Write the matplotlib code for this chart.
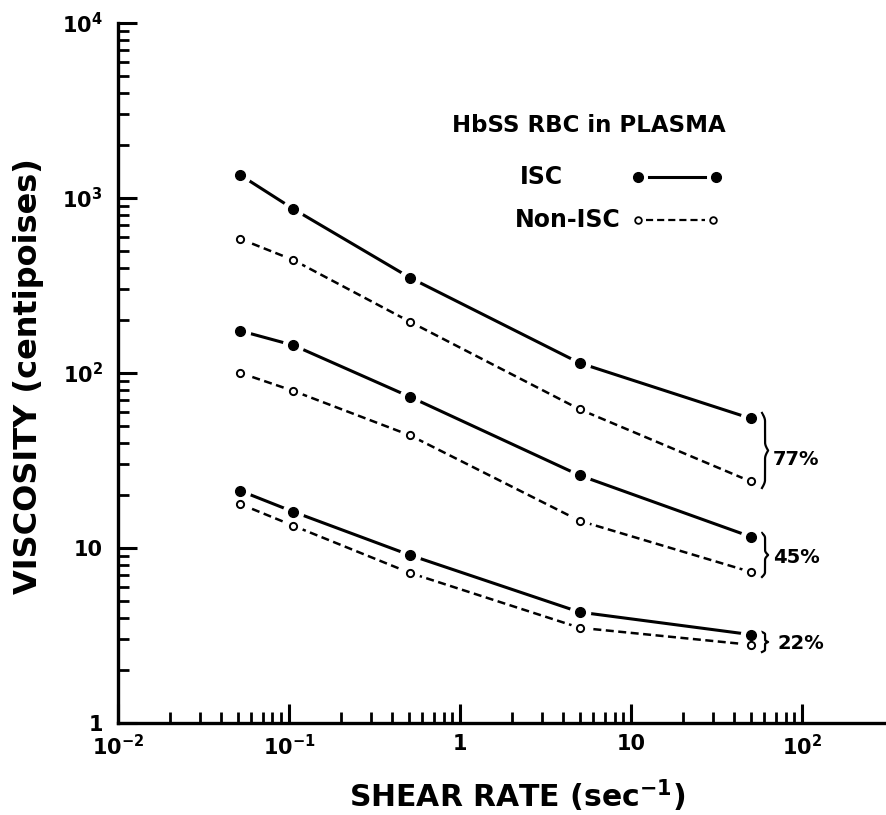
import numpy as np
import matplotlib
matplotlib.use("Agg")
import matplotlib.pyplot as plt

# valeurs
shear = [0.052, 0.106, 0.51, 5.0, 50]
isc_77 = [1350, 865, 350, 114, 55]
non_77 = [583, 442, 196, 62, 24]
isc_45 = [174, 144, 73, 26, 11.6]
non_45 = [100, 79, 44, 14.3, 7.3]
isc_22 = [21.2, 16.1, 9.1, 4.3, 3.2]
non_22 = [17.8, 13.4, 7.2, 3.5, 2.8]

groups = ["77%", "45%", "22%"]
isc_series = [isc_77, isc_45, isc_22]
non_series = [non_77, non_45, non_22]

x_ticks = [1e-2, 1e-1, 1, 10, 1e2]
x_tick_labels = ["10$^{-2}$", "10$^{-1}$", "1", "10", "10$^{2}$"]
y_ticks = [1, 10, 1e2, 1e3, 1e4]
y_tick_labels = ["1", "10", "10$^{2}$", "10$^{3}$", "10$^{4}$"]

plt.rcParams["font.family"] = ["DejaVu Sans"]
plt.rcParams["font.weight"] = "bold"
plt.rcParams["mathtext.fontset"] = "dejavusans"
plt.rcParams["mathtext.default"] = "bf"

fig = plt.figure(figsize=(8.86, 8.15), dpi=100)
ax = fig.add_axes([0.1332, 0.1129, 0.8668, 0.8589])
ax.set_xscale("log")
ax.set_yscale("log")
ax.set_xlim(1e-2, 10 ** 2.49)
ax.set_ylim(1, 1e4)

dash = (0, (3.2, 1.8))
for isc, non in zip(isc_series, non_series):
    ax.plot(shear, isc, color="black", lw=2.2, zorder=2)
    ax.plot(shear, non, color="black", lw=1.8, linestyle=dash, zorder=2)
# halo blanc pour couper les lignes autour des points
for isc, non in zip(isc_series, non_series):
    ax.plot(shear, isc, "o", ms=15.5, color="white", mec="none", zorder=3)
    ax.plot(shear, non, "o", ms=14, color="white", mec="none", zorder=3)
for isc, non in zip(isc_series, non_series):
    ax.plot(shear, isc, "o", ms=7, color="black", mec="black", zorder=4)
    ax.plot(shear, non, "o", ms=5.2, mfc="white", mec="black", mew=1.4, zorder=4)

# axes
for s in ["top", "right"]:
    ax.spines[s].set_visible(False)
for s in ["left", "bottom"]:
    ax.spines[s].set_linewidth(2.4)

ax.set_xticks(x_ticks)
ax.set_xticklabels(x_tick_labels)
ax.set_yticks(y_ticks)
ax.set_yticklabels(y_tick_labels)
ax.set_xticks([m * 10.0 ** e for e in range(-2, 2) for m in range(2, 10)], minor=True)
ax.set_yticks([m * 10.0 ** e for e in range(0, 4) for m in range(2, 10)], minor=True)
ax.set_xticklabels([], minor=True)
ax.set_yticklabels([], minor=True)
ax.tick_params(which="major", direction="in", length=13.5, width=2.2, labelsize=15)
ax.tick_params(which="minor", direction="in", length=8, width=2)
ax.tick_params(axis="x", pad=8)
ax.tick_params(axis="y", pad=11)

ax.set_xlabel("SHEAR RATE (sec$^{-1}$)", fontsize=21.5, fontweight="bold")
ax.xaxis.set_label_coords(0.52, -0.078)
ax.set_ylabel("VISCOSITY (centipoises)", fontsize=23, fontweight="bold")
ax.yaxis.set_label_coords(-0.117, 0.496)
ax.yaxis.label.set_va("center")

# légende dessinée à la main
tr = ax.transAxes
ax.text(0.435, 0.854, "HbSS RBC in PLASMA", transform=tr, fontsize=16.5,
        fontweight="bold", va="center", ha="left")
ax.text(0.523, 0.780, "ISC", transform=tr, fontsize=17, fontweight="bold",
        va="center", ha="left")
ax.text(0.517, 0.7186, "Non-ISC", transform=tr, fontsize=17, fontweight="bold",
        va="center", ha="left")
ax.plot([0.692, 0.764], [0.780, 0.780], transform=tr, color="black", lw=2.2)
ax.plot([0.677, 0.779], [0.780, 0.780], "o", transform=tr, ms=7, color="black")
ax.plot([0.688, 0.764], [0.7186, 0.7186], transform=tr, color="black", lw=1.6,
        linestyle=dash)
ax.plot([0.677, 0.775], [0.7186, 0.7186], "o", transform=tr, ms=4.8,
        mfc="white", mec="black", mew=1.3)


def brace(x, y0, y1, w):
    s = np.linspace(0, 1, 100)
    a = 0.22
    f = np.where(s < a, 0.5 * w * np.sin(s / a * np.pi / 2),
                 np.where(s < 1 - a, 0.5 * w,
                          0.5 * w + 0.5 * w * (1 - np.cos((s - (1 - a)) / a * np.pi / 2))))
    ym = 0.5 * (y0 + y1)
    ys = np.concatenate([y1 - s * (y1 - ym), y0 + s[::-1] * (ym - y0)])
    xs = np.concatenate([x + f, x + f[::-1]])
    ax.plot(xs, ys, transform=tr, color="black", lw=1.6, clip_on=False)


brace_spans = [(0.4429, 0.3357), (0.2714, 0.2086), (0.130, 0.1014)]
label_pos = [(0.853, 0.3757), (0.853, 0.2357), (0.859, 0.114)]
for g, (ya, yb), (lx, ly) in zip(groups, brace_spans, label_pos):
    brace(0.8385, yb, ya, 0.008)
    ax.text(lx, ly, g, transform=tr, fontsize=14, fontweight="bold",
            va="center", ha="left")

fig.savefig("out.png", dpi=100)
